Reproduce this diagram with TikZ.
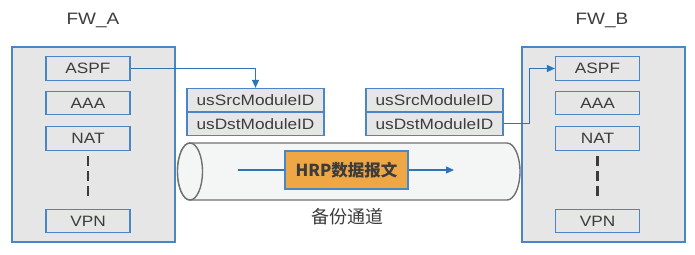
\documentclass[tikz,border=0pt]{standalone}
\usepackage{fontspec}
\setmainfont{Liberation Sans}[FakeStretch=1.15]
\newfontfamily\cjk{Noto Sans CJK SC}
\usetikzlibrary{arrows.meta}
\definecolor{linkblue}{HTML}{2F74B5}
\definecolor{boxblue}{HTML}{4A86C5}
\definecolor{boxgray}{HTML}{E6E6E6}
\definecolor{txtgray}{HTML}{3C3C3C}
\definecolor{pktorange}{HTML}{EFA746}
\definecolor{pipegray}{HTML}{707070}
\definecolor{pipefill}{HTML}{F4F6F6}
\tikzset{
  fwbox/.style={draw=boxblue,fill=boxgray,line width=1.2pt,minimum width=163pt,minimum height=195pt},
  modbox/.style={draw=boxblue,fill=boxgray,line width=1.2pt,minimum width=84pt,minimum height=23.5pt,inner sep=0pt,text=txtgray,font=\fontsize{15}{18}\selectfont},
  idbox/.style={draw=boxblue,fill=boxgray,line width=1.2pt,minimum width=137pt,minimum height=23.5pt,inner sep=0pt,text=txtgray,font=\fontsize{15}{18}\selectfont},
  link/.style={draw=linkblue,line width=1.1pt,-{Triangle[length=8pt,width=7pt]}},
  dots/.style={draw=txtgray,line width=2.6pt,dash pattern=on 10pt off 5pt},
  pipe/.style={draw=pipegray,line width=1.4pt,fill=pipefill}
}
\begin{document}
\begin{tikzpicture}[x=1pt,y=-1pt]
\useasboundingbox (0,0) rectangle (695,254);
\node[fwbox] (fwa) at (93.5,144.5) {};
\node[fwbox] (fwb) at (603.5,144.5) {};
\node[text=txtgray,font=\fontsize{16.5}{20}\selectfont] (fwalabel) at (93,20) {FW\_A};
\node[text=txtgray,font=\fontsize{16.5}{20}\selectfont] (fwblabel) at (602,20) {FW\_B};
\foreach \s/\x in {a/88,b/597.5} {
  \node[modbox] (aspf\s) at (\x,68.5) {ASPF};
  \node[modbox] (aaa\s) at (\x,103) {AAA};
  \node[modbox] (nat\s) at (\x,138.5) {NAT};
  \node[modbox] (vpn\s) at (\x,221) {VPN};
  \draw[dots,shorten <=5pt,shorten >=12pt] (nat\s.south) -- (vpn\s.north);
}
\foreach \s/\x in {a/255.5,b/434.5} {
  \node[idbox] (src\s) at (\x,100.25) {usSrcModuleID};
  \node[idbox] (dst\s) at (\x,123.75) {usDstModuleID};
}
\path[pipe] (190,143) -- (507,143) arc[start angle=-90,end angle=90,x radius=13,y radius=28.5]
  -- (190,200) arc[start angle=90,end angle=270,x radius=12.5,y radius=28.5] -- cycle;
\path[pipe] (190,171.5) ellipse[x radius=12.5,y radius=28.5];
\node[draw=boxblue,fill=pktorange,line width=1.2pt,minimum width=123pt,minimum height=38pt,inner sep=0pt,text=txtgray,font=\cjk\bfseries\fontsize{16.5}{20}\selectfont] (hrp) at (346.5,170) {HRP数据报文};
\node[text=txtgray,font=\cjk\fontsize{18}{22}\selectfont] (pipelabel) at (347,217) {备份通道};
\coordinate (pktin) at (238,170);
\coordinate (pktout) at (454,170);
\draw[draw=linkblue,line width=1.1pt] (pktin) -- (hrp.west);
\draw[link] (hrp.east) -- (pktout);
\draw[link] (aspfa.east) -| (srca.north);
\draw[link] (dstb.east) -- ++(26,0) |- (aspfb.west);
\end{tikzpicture}
\end{document}
